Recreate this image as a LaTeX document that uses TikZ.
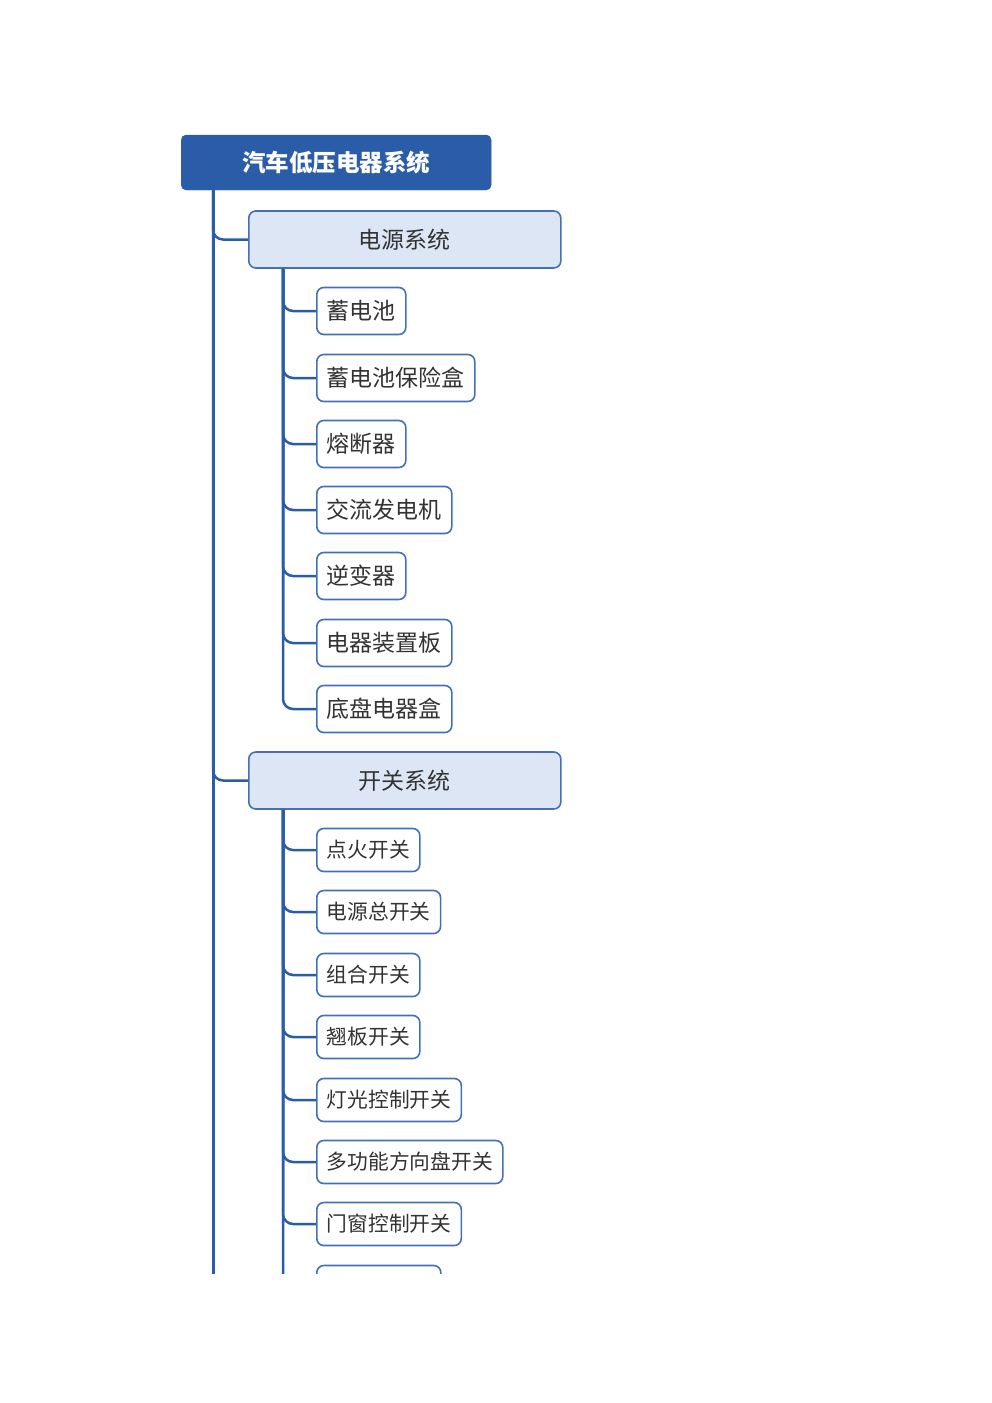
\documentclass[tikz,border=0pt]{standalone}
\usepackage{fontspec}
\newfontfamily\cjk{Noto Sans CJK SC}
\usetikzlibrary{positioning, calc}
\definecolor{dkblue}{HTML}{2B5CA8}
\definecolor{ltblue}{HTML}{DCE6F5}
\definecolor{edge}{HTML}{4470B8}
\definecolor{txt}{HTML}{333333}
\tikzset{
  root/.style={fill=dkblue, draw=dkblue, rounded corners=5pt, text=white, font=\cjk\bfseries\fontsize{23.5}{24}\selectfont, minimum width=310pt, minimum height=55pt, anchor=west},
  sys/.style={fill=ltblue, draw=edge, line width=1.6pt, rounded corners=7pt, text=txt, font=\cjk\fontsize{23}{24}\selectfont, minimum width=312pt, minimum height=57pt, anchor=west},
  item/.style={fill=white, draw=edge, line width=1.6pt, rounded corners=7pt, text=txt, font=\cjk\fontsize{23}{24}\selectfont, inner xsep=10pt, minimum height=47pt, anchor=west},
  itemb/.style={item, font=\cjk\fontsize{20.75}{22}\selectfont, minimum height=43pt},
  trunk/.style={draw=dkblue, line width=3pt},
  link/.style={draw=dkblue, line width=2.5pt, rounded corners=10pt}
}
\begin{document}
\begin{tikzpicture}[x=1pt, y=-1pt]
\useasboundingbox (0,0) rectangle (992,1403);
\begin{scope}
\clip (0,0) rectangle (992,1273);
% coordinates of the trunks
\coordinate (t0) at (213, 1300);
\coordinate (t1) at (283, 0);

\node[root] at (181, 162.5) (top) {汽车低压电器系统};

\node[sys] at (248, 239.5) (ps) {电源系统};
\node[item] at (316, 311) (a1) {蓄电池};
\node[item] at (316, 378) (a2) {蓄电池保险盒};
\node[item] at (316, 444) (a3) {熔断器};
\node[item] at (316, 510) (a4) {交流发电机};
\node[item] at (316, 576) (a5) {逆变器};
\node[item] at (316, 643) (a6) {电器装置板};
\node[item] at (316, 709) (a7) {底盘电器盒};

\node[sys] at (248, 780.5) (ss) {开关系统};
\node[itemb] at (316, 850) (b1) {点火开关};
\node[itemb] at (316, 912) (b2) {电源总开关};
\node[itemb] at (316, 975) (b3) {组合开关};
\node[itemb] at (316, 1037) (b4) {翘板开关};
\node[itemb] at (316, 1100) (b5) {灯光控制开关};
\node[itemb] at (316, 1162) (b6) {多功能方向盘开关};
\node[itemb] at (316, 1224) (b7) {门窗控制开关};
\node[itemb, minimum width=124pt] at (316, 1287) (b8) {};

\draw[trunk] (top.south -| t0) -- (t0);
\draw[link] (top.south -| t0) |- (ps.west);
\draw[link] (top.south -| t0) |- (ss.west);

\foreach \n in {a1,a2,a3,a4,a5,a6,a7}
  \draw[link] (ps.south -| t1) |- (\n.west);
\foreach \n in {b1,b2,b3,b4,b5,b6,b7,b8}
  \draw[link] (ss.south -| t1) |- (\n.west);
\end{scope}
\end{tikzpicture}
\end{document}
